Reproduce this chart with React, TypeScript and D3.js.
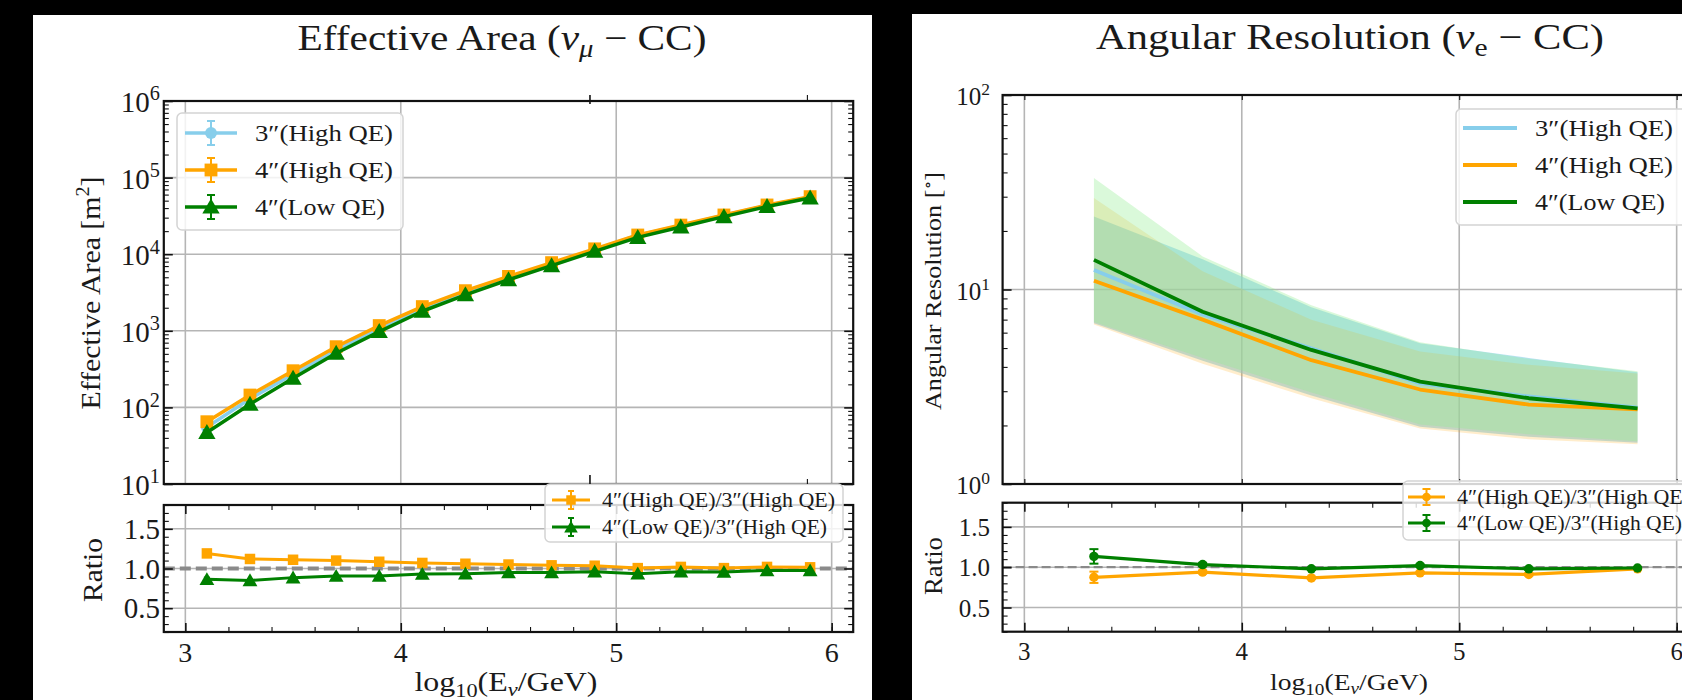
import React, { useEffect, useRef } from 'react';
import * as d3 from 'd3';

const W = 1682;
const H = 700;
const FONT = '"Liberation Serif", "DejaVu Serif", serif';

const BLUE = '#87ceeb';
const ORANGE = '#ffa500';
const GREEN = '#008000';

// Effective area (nu_mu CC), x = log10(E/GeV) bin centres
const eaEnergy = [3.1, 3.3, 3.5, 3.7, 3.9, 4.1, 4.3, 4.5, 4.7, 4.9, 5.1, 5.3, 5.5, 5.7, 5.9];
const ea3High = [55, 130, 271, 564, 1080, 1935, 3150, 4890, 7460, 11350, 17700, 23500, 32300, 43000, 55600];
const ea4High = [65, 145, 301, 620, 1170, 2070, 3340, 5130, 7760, 11750, 17800, 24000, 32500, 43900, 56400];
const ea4Low = [47, 110, 240, 510, 976, 1800, 2950, 4640, 7090, 10900, 16560, 22600, 30900, 42000, 54200];
const eaRelErr = [0.08, 0.06, 0.05, 0.04, 0.035, 0.03, 0.03, 0.025, 0.025, 0.02, 0.02, 0.02, 0.02, 0.02, 0.02];
const eaRatio4High = [1.19, 1.12, 1.11, 1.1, 1.085, 1.07, 1.06, 1.05, 1.04, 1.035, 1.005, 1.02, 1.005, 1.02, 1.015];
const eaRatio4Low = [0.865, 0.85, 0.885, 0.905, 0.905, 0.93, 0.935, 0.95, 0.95, 0.96, 0.935, 0.96, 0.955, 0.975, 0.975];
const eaRatioErr = [0.02, 0.015, 0.012, 0.01, 0.01, 0.01, 0.01, 0.01, 0.01, 0.01, 0.01, 0.01, 0.01, 0.01, 0.01];

// Angular resolution (nu_e CC), degrees, median line and band
const arEnergy = [3.32, 3.82, 4.32, 4.82, 5.32, 5.82];
const ar3High = [12.6, 7.44, 4.99, 3.29, 2.82, 2.47];
const ar4High = [11.1, 7.0, 4.33, 3.06, 2.56, 2.42];
const ar4Low = [14.2, 7.69, 4.89, 3.36, 2.76, 2.45];
const ar3HighLo = [6.7, 4.3, 2.85, 1.97, 1.75, 1.63];
const ar3HighHi = [23.7, 14.3, 8.1, 5.3, 4.45, 3.75];
const ar4HighLo = [6.6, 4.15, 2.76, 1.93, 1.7, 1.6];
const ar4HighHi = [29.5, 12.4, 7.0, 4.8, 4.1, 3.7];
const ar4LowLo = [6.8, 4.45, 2.95, 2.02, 1.8, 1.66];
const ar4LowHi = [37.4, 14.8, 8.3, 5.35, 4.4, 3.8];
const arRatio4High = [0.875, 0.94, 0.867, 0.93, 0.91, 0.98];
const arRatio4Low = [1.134, 1.033, 0.98, 1.02, 0.98, 0.99];
const arRatioErr4High = [0.07, 0.02, 0.015, 0.015, 0.015, 0.01];
const arRatioErr4Low = [0.09, 0.02, 0.015, 0.015, 0.015, 0.01];

const xMajor = [3, 4, 5, 6];
const xMinor = [3.2, 3.4, 3.6, 3.8, 4.2, 4.4, 4.6, 4.8, 5.2, 5.4, 5.6, 5.8, 6.0];
const ratioMajor = [0.5, 1.0, 1.5];
const ratioMinor = [0.2, 0.3, 0.4, 0.6, 0.7, 0.8, 0.9, 1.1, 1.2, 1.3, 1.4, 1.6, 1.7, 1.8];
const eaDecades = [1, 2, 3, 4, 5, 6];
const arDecades = [0, 1, 2];

const legendMain = ['3″(High QE)', '4″(High QE)', '4″(Low QE)'];
const legendRatio = ['4″(High QE)/3″(High QE)', '4″(Low QE)/3″(High QE)'];

const logMinor = (decades: number[]) => {
  const out: number[] = [];
  decades.slice(0, -1).forEach(d => {
    for (let m = 2; m < 10; m++) out.push(m * Math.pow(10, d));
  });
  return out;
};

const App = () => {
  const ref = useRef<SVGSVGElement>(null);

  useEffect(() => {
    const svg = d3.select(ref.current);
    svg.selectAll('*').remove();

    svg.append('rect').attr('width', W).attr('height', H).attr('fill', '#000');
    svg.append('rect').attr('x', 33).attr('y', 15).attr('width', 839).attr('height', H - 15).attr('fill', '#fff');
    svg.append('rect').attr('x', 912).attr('y', 14).attr('width', W - 912).attr('height', H - 14).attr('fill', '#fff');

    // inward ticks on all four sides + frame
    const frame = (g, x, y, xMaj, xMin, yMaj, yMin) => {
      const [x0, x1] = x.range();
      const [yb, yt] = y.range();
      const ax = (gen, tr, vals, size, w) => {
        g.append('g').attr('transform', tr)
          .call(gen.tickValues(vals).tickSize(-size).tickFormat(() => ''))
          .call(a => a.select('.domain').remove())
          .call(a => a.selectAll('line').attr('stroke', '#111').attr('stroke-width', w));
      };
      ax(d3.axisBottom(x), `translate(0,${yb})`, xMaj, 9, 1.6);
      ax(d3.axisBottom(x), `translate(0,${yb})`, xMin, 5, 1.1);
      ax(d3.axisTop(x), `translate(0,${yt})`, xMaj, 9, 1.6);
      ax(d3.axisTop(x), `translate(0,${yt})`, xMin, 5, 1.1);
      ax(d3.axisLeft(y), `translate(${x0},0)`, yMaj, 9, 1.6);
      ax(d3.axisLeft(y), `translate(${x0},0)`, yMin, 5, 1.1);
      ax(d3.axisRight(y), `translate(${x1},0)`, yMaj, 9, 1.6);
      ax(d3.axisRight(y), `translate(${x1},0)`, yMin, 5, 1.1);
      g.append('rect').attr('x', x0).attr('y', yt).attr('width', x1 - x0).attr('height', yb - yt)
        .attr('fill', 'none').attr('stroke', '#111').attr('stroke-width', 2.2);
    };

    const grid = (g, x, y, xMaj, yMaj) => {
      const [x0, x1] = x.range();
      const [yb, yt] = y.range();
      g.selectAll(null).data(xMaj).enter().append('line')
        .attr('x1', d => x(d)).attr('x2', d => x(d)).attr('y1', yt).attr('y2', yb)
        .attr('stroke', '#b5b5b5').attr('stroke-width', 1.6);
      g.selectAll(null).data(yMaj).enter().append('line')
        .attr('x1', x0).attr('x2', x1).attr('y1', d => y(d)).attr('y2', d => y(d))
        .attr('stroke', '#b5b5b5').attr('stroke-width', 1.6);
    };

    const marker = (g, type, cx, cy, size, color) => {
      const sym = type === 'square' ? d3.symbolSquare : type === 'triangle' ? d3.symbolTriangle : d3.symbolCircle;
      g.append('path').attr('d', d3.symbol().type(sym).size(size)())
        .attr('transform', `translate(${cx},${cy + (type === 'triangle' ? 1.5 : 0)})`)
        .attr('fill', color);
    };

    const series = (g, x, y, xs, ys, lo, hi, color, type, size, lw, cap) => {
      const pts = xs.map((d, i) => [x(d), y(ys[i])]);
      g.append('path').attr('d', d3.line()(pts)).attr('fill', 'none')
        .attr('stroke', color).attr('stroke-width', lw).attr('stroke-linejoin', 'round');
      xs.forEach((d, i) => {
        const cx = x(d);
        g.append('line').attr('x1', cx).attr('x2', cx).attr('y1', y(lo[i])).attr('y2', y(hi[i]))
          .attr('stroke', color).attr('stroke-width', 2);
        [lo[i], hi[i]].forEach(v => g.append('line').attr('x1', cx - cap).attr('x2', cx + cap)
          .attr('y1', y(v)).attr('y2', y(v)).attr('stroke', color).attr('stroke-width', 2));
        marker(g, type, cx, y(ys[i]), size, color);
      });
    };

    const txt = (g, xp, yp, fs, anchor) =>
      g.append('text').attr('x', xp).attr('y', yp).attr('text-anchor', anchor)
        .attr('font-family', FONT).attr('font-size', fs).attr('fill', '#1a1a1a');

    const fit = (t, len) => t.attr('textLength', len).attr('lengthAdjust', 'spacingAndGlyphs');

    const pow10 = (g, xr, yBase, exp, fs) => {
      const t = txt(g, xr, yBase, fs, 'end');
      t.append('tspan').text('10');
      t.append('tspan').attr('dy', -0.4 * fs).attr('font-size', fs * 0.7).text(exp);
    };

    const xLabel = (g, cx, by, fs, len) => {
      const t = fit(txt(g, cx, by, fs, 'middle'), len);
      t.append('tspan').text('log');
      t.append('tspan').attr('dy', 0.2 * fs).attr('font-size', fs * 0.7).text('10');
      t.append('tspan').attr('dy', -0.2 * fs).text('(E');
      t.append('tspan').attr('dy', 0.18 * fs).attr('font-size', fs * 0.7).attr('font-style', 'italic').text('ν');
      t.append('tspan').attr('dy', -0.18 * fs).text('/GeV)');
    };

    const rotLabel = (g, bx, cy, fs, len) => {
      const t = g.append('text').attr('transform', `translate(${bx},${cy}) rotate(-90)`)
        .attr('text-anchor', 'middle').attr('font-family', FONT).attr('font-size', fs).attr('fill', '#1a1a1a');
      return fit(t, len);
    };

    const legendBox = (g, x0, y0, w, h) =>
      g.append('rect').attr('x', x0).attr('y', y0).attr('width', w).attr('height', h).attr('rx', 5)
        .attr('fill', 'rgba(255,255,255,0.82)').attr('stroke', '#d4d4d4').attr('stroke-width', 1.5);

    const handle = (g, x0, x1, yc, color, type, size, lw, err, cap) => {
      g.append('line').attr('x1', x0).attr('x2', x1).attr('y1', yc).attr('y2', yc)
        .attr('stroke', color).attr('stroke-width', lw);
      if (err) {
        const cx = (x0 + x1) / 2;
        g.append('line').attr('x1', cx).attr('x2', cx).attr('y1', yc - err).attr('y2', yc + err)
          .attr('stroke', color).attr('stroke-width', 2);
        [yc - err, yc + err].forEach(v => g.append('line').attr('x1', cx - cap).attr('x2', cx + cap)
          .attr('y1', v).attr('y2', v).attr('stroke', color).attr('stroke-width', 2));
        marker(g, type, cx, yc, size, color);
      }
    };

    // ---------------- left: effective area ----------------
    {
      const g = svg.append('g');
      const x = d3.scaleLinear().domain([2.9, 6.1]).range([163.8, 853.2]);
      const y = d3.scaleLog().domain([10, 1e6]).range([484, 101]);
      const yr = d3.scaleLinear().domain([0.2, 1.8]).range([632, 505]);
      const eaMajor = eaDecades.map(d => Math.pow(10, d));

      grid(g, x, y, xMajor, eaMajor);
      grid(g, x, yr, xMajor, ratioMajor);

      const err = (vals, s) => vals.map((v, i) => v * (1 + s * eaRelErr[i]));
      series(g, x, y, eaEnergy, ea3High, err(ea3High, -1), err(ea3High, 1), BLUE, 'circle', 110, 3.5, 3.5);
      series(g, x, y, eaEnergy, ea4High, err(ea4High, -1), err(ea4High, 1), ORANGE, 'square', 165, 3.5, 3.5);
      series(g, x, y, eaEnergy, ea4Low, err(ea4Low, -1), err(ea4Low, 1), GREEN, 'triangle', 130, 3.5, 3.5);

      g.append('line').attr('x1', x(2.9)).attr('x2', x(6.1)).attr('y1', yr(1)).attr('y2', yr(1))
        .attr('stroke', '#8a8a8a').attr('stroke-width', 4).attr('stroke-dasharray', '11,5');
      const rlo = (r) => r.map((v, i) => v - eaRatioErr[i]);
      const rhi = (r) => r.map((v, i) => v + eaRatioErr[i]);
      series(g, x, yr, eaEnergy, eaRatio4High, rlo(eaRatio4High), rhi(eaRatio4High), ORANGE, 'square', 110, 3, 3);
      series(g, x, yr, eaEnergy, eaRatio4Low, rlo(eaRatio4Low), rhi(eaRatio4Low), GREEN, 'triangle', 95, 3, 3);

      frame(g, x, y, eaMajor, logMinor(eaDecades), eaMajor, logMinor(eaDecades));
      frame(g, x, yr, xMajor, xMinor, ratioMajor, ratioMinor);

      eaDecades.forEach(d => pow10(g, 160, y(Math.pow(10, d)) + 11, String(d), 29));
      ratioMajor.forEach(v => txt(g, 160, yr(v) + 10, 29, 'end').text(v.toFixed(1)));
      xMajor.forEach(v => txt(g, x(v), 662, 28, 'middle').text(String(v)));

      const t = fit(txt(svg, 502, 50, 36, 'middle'), 409);
      t.append('tspan').text('Effective Area (');
      t.append('tspan').attr('font-style', 'italic').text('ν');
      t.append('tspan').attr('dy', 7).attr('font-size', 25).attr('font-style', 'italic').text('μ');
      t.append('tspan').attr('dy', -7).text(' − CC)');

      xLabel(g, 506, 691, 28, 183);
      const yl = rotLabel(g, 100, 293, 28, 233);
      yl.append('tspan').text('Effective Area [m');
      yl.append('tspan').attr('dy', -11).attr('font-size', 19).text('2');
      yl.append('tspan').attr('dy', 11).text(']');
      rotLabel(g, 102, 570, 28, 64).text('Ratio');

      const lg = svg.append('g');
      legendBox(lg, 177, 113, 226, 117);
      const mk = ['circle', 'square', 'triangle'];
      const ms = [110, 165, 130];
      [BLUE, ORANGE, GREEN].forEach((c, i) => {
        const yc = 133 + i * 37;
        handle(lg, 185, 237, yc, c, mk[i], ms[i], 3.5, 12, 4);
        fit(txt(lg, 255, yc + 8, 24, 'start'), i === 2 ? 130 : 138).text(legendMain[i]);
      });

      legendBox(lg, 545, 484, 298, 58);
      [ORANGE, GREEN].forEach((c, i) => {
        const yc = 500 + i * 27;
        handle(lg, 552, 590, yc, c, i === 0 ? 'square' : 'triangle', i === 0 ? 90 : 80, 3, 9, 3);
        fit(txt(lg, 602, yc + 7, 20, 'start'), i === 0 ? 233 : 225).text(legendRatio[i]);
      });
    }

    // ---------------- right: angular resolution ----------------
    {
      const g = svg.append('g');
      const x = d3.scaleLinear().domain([2.9, 6.1]).range([1002.6, 1698.4]);
      const y = d3.scaleLog().domain([1, 100]).range([484, 95]);
      const yr = d3.scaleLinear().domain([0.2, 1.8]).range([631.7, 502.7]);
      const arMajor = arDecades.map(d => Math.pow(10, d));

      grid(g, x, y, xMajor, arMajor);
      grid(g, x, yr, xMajor, ratioMajor);

      const band = (lo, hi, fill, op) => {
        const area = d3.area().x((d, i) => x(arEnergy[i])).y0((d, i) => y(lo[i])).y1((d, i) => y(hi[i]));
        g.append('path').attr('d', area(lo)).attr('fill', fill).attr('fill-opacity', op);
      };
      band(ar3HighLo, ar3HighHi, BLUE, 0.6);
      band(ar4HighLo, ar4HighHi, ORANGE, 0.2);
      band(ar4LowLo, ar4LowHi, '#90ee90', 0.33);

      [[ar3High, BLUE], [ar4High, ORANGE], [ar4Low, GREEN]].forEach(([vals, c]) => {
        const ln = d3.line().x((d, i) => x(arEnergy[i])).y(d => y(d));
        g.append('path').attr('d', ln(vals)).attr('fill', 'none').attr('stroke', c)
          .attr('stroke-width', 3.8).attr('stroke-linejoin', 'round');
      });

      g.append('line').attr('x1', x(2.9)).attr('x2', x(6.1)).attr('y1', yr(1)).attr('y2', yr(1))
        .attr('stroke', '#8a8a8a').attr('stroke-width', 2.2).attr('stroke-dasharray', '9,4');
      const lo = (r, e) => r.map((v, i) => v - e[i]);
      const hi = (r, e) => r.map((v, i) => v + e[i]);
      series(g, x, yr, arEnergy, arRatio4High, lo(arRatio4High, arRatioErr4High), hi(arRatio4High, arRatioErr4High), ORANGE, 'circle', 70, 3.2, 4.5);
      series(g, x, yr, arEnergy, arRatio4Low, lo(arRatio4Low, arRatioErr4Low), hi(arRatio4Low, arRatioErr4Low), GREEN, 'circle', 70, 3.2, 4.5);

      frame(g, x, y, arMajor, logMinor(arDecades), arMajor, logMinor(arDecades));
      frame(g, x, yr, xMajor, xMinor, ratioMajor, ratioMinor);

      arDecades.forEach(d => pow10(g, 990, y(Math.pow(10, d)) + 10, String(d), 25));
      ratioMajor.forEach(v => txt(g, 990, yr(v) + 9, 25, 'end').text(v.toFixed(1)));
      xMajor.forEach(v => txt(g, x(v), 660, 25, 'middle').text(String(v)));

      const t = fit(txt(svg, 1350, 49, 36, 'middle'), 508);
      t.append('tspan').text('Angular Resolution (');
      t.append('tspan').attr('font-style', 'italic').text('ν');
      t.append('tspan').attr('dy', 7).attr('font-size', 25).text('e');
      t.append('tspan').attr('dy', -7).text(' − CC)');

      xLabel(g, 1349, 690, 24, 158);
      const yl = rotLabel(g, 941, 291, 23, 238);
      yl.append('tspan').text('Angular Resolution [');
      yl.append('tspan').attr('dy', -8).attr('font-size', 16).text('∘');
      yl.append('tspan').attr('dy', 8).text(']');
      rotLabel(g, 942, 566, 25, 58).text('Ratio');

      const lg = svg.append('g');
      legendBox(lg, 1456, 109, 240, 116);
      [BLUE, ORANGE, GREEN].forEach((c, i) => {
        const yc = 128 + i * 37;
        handle(lg, 1463, 1517, yc, c, null, 0, 3.8, 0, 0);
        fit(txt(lg, 1535, yc + 8, 24, 'start'), i === 2 ? 130 : 138).text(legendMain[i]);
      });

      legendBox(lg, 1403, 481, 300, 59);
      [ORANGE, GREEN].forEach((c, i) => {
        const yc = 497 + i * 26;
        handle(lg, 1408, 1445, yc, c, 'circle', 60, 3.2, 8, 4);
        fit(txt(lg, 1457, yc + 7, 20, 'start'), i === 0 ? 233 : 225).text(legendRatio[i]);
      });
    }
  }, []);

  return (
    <svg ref={ref} width={W} height={H} style={{ position: 'absolute', left: 0, top: 0, display: 'block' }} />
  );
};

export default App;
